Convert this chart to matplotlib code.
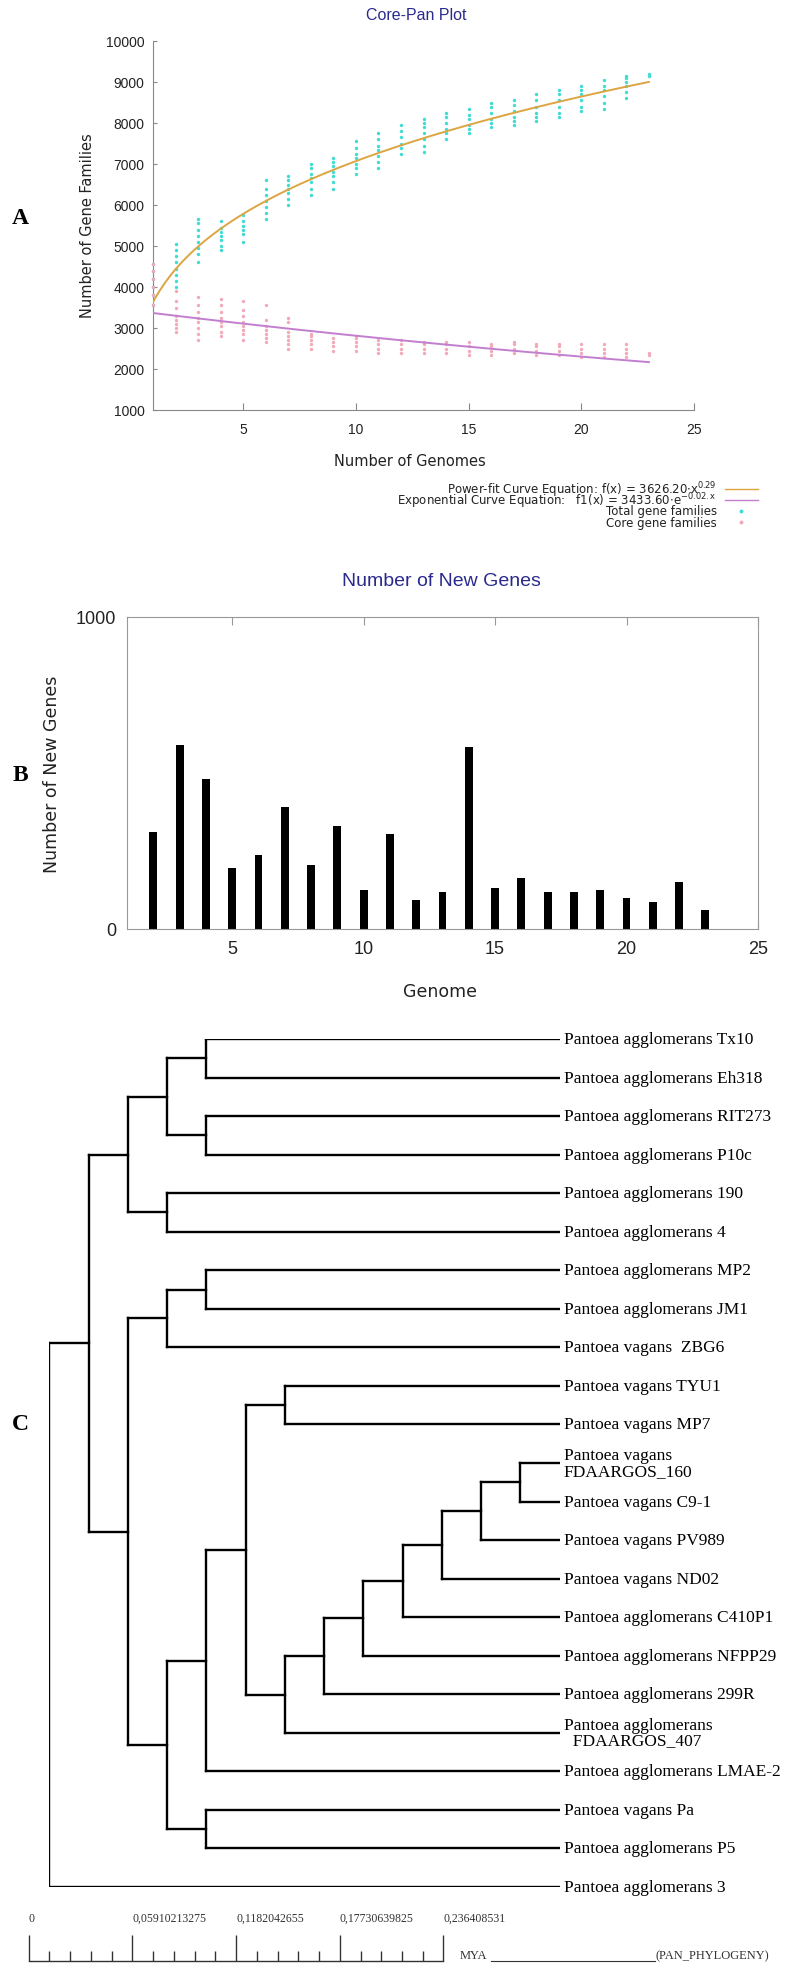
import matplotlib.pyplot as plt
import numpy as np
from matplotlib.lines import Line2D

plt.rcParams['mathtext.default'] = 'regular'

# ---- panel A: core-pan plot ----
genomes_a = list(range(1, 24))
total_families = [
    [3550, 3800, 4000, 4200, 4400, 4550],
    [4000, 4150, 4300, 4450, 4600, 4750, 4900, 5050],
    [4600, 4800, 4950, 5100, 5250, 5400, 5550, 5650],
    [4900, 5000, 5150, 5250, 5350, 5450, 5600],
    [5100, 5300, 5400, 5500, 5600, 5750],
    [5650, 5800, 5950, 6100, 6250, 6400, 6600],
    [6000, 6150, 6300, 6400, 6500, 6600, 6700],
    [6250, 6400, 6550, 6650, 6750, 6900, 7000],
    [6400, 6550, 6700, 6800, 6950, 7050, 7150],
    [6750, 6900, 7000, 7150, 7250, 7400, 7550],
    [6900, 7050, 7200, 7350, 7450, 7600, 7750],
    [7250, 7400, 7500, 7650, 7800, 7950],
    [7300, 7450, 7600, 7750, 7900, 8000, 8100],
    [7600, 7750, 7850, 8000, 8150, 8250],
    [7750, 7850, 7950, 8100, 8200, 8350],
    [7900, 8000, 8100, 8250, 8400, 8500],
    [7950, 8050, 8150, 8300, 8450, 8550],
    [8050, 8150, 8250, 8400, 8550, 8700],
    [8150, 8250, 8400, 8550, 8700, 8800],
    [8300, 8400, 8550, 8700, 8800, 8900],
    [8350, 8500, 8650, 8800, 8900, 9050],
    [8600, 8750, 8900, 9000, 9100, 9150],
    [9150, 9200],
]
core_families = [
    [3550, 3800, 4000, 4200, 4400, 4550],
    [2900, 3000, 3100, 3200, 3300, 3500, 3650, 3900],
    [2700, 2850, 3000, 3150, 3250, 3400, 3550, 3750],
    [2800, 2900, 3050, 3150, 3250, 3400, 3550, 3700],
    [2700, 2850, 2950, 3050, 3150, 3300, 3450, 3650],
    [2650, 2750, 2850, 2950, 3050, 3200, 3550],
    [2500, 2600, 2700, 2800, 2900, 3150, 3250],
    [2500, 2600, 2700, 2800, 2850],
    [2450, 2550, 2650, 2750],
    [2450, 2550, 2650, 2750, 2800],
    [2400, 2500, 2600, 2700],
    [2400, 2500, 2600, 2700],
    [2400, 2500, 2600, 2650],
    [2400, 2500, 2600, 2650],
    [2350, 2450, 2550, 2650],
    [2350, 2450, 2550, 2600],
    [2400, 2500, 2600, 2650],
    [2350, 2450, 2550, 2600],
    [2350, 2450, 2550, 2600],
    [2300, 2400, 2500, 2600],
    [2300, 2400, 2500, 2600],
    [2300, 2400, 2500, 2600],
    [2350, 2400],
]
power_fit = (3626.20, 0.29)
exp_fit = (3433.60, -0.02)
legend_labels = [
    r'Power-fit Curve Equation: f(x) = 3626.20$\cdot$x$^{0.29}$',
    r'Exponential Curve Equation:   f1(x) = 3433.60$\cdot$e$^{-0.02.x}$',
    'Total gene families',
    'Core gene families',
]

# ---- panel B: new genes ----
genomes_b = list(range(2, 24))
new_genes = [310, 590, 481, 194, 238, 392, 206, 330, 126, 306, 93,
             118, 582, 131, 164, 117, 119, 125, 100, 86, 152, 61]

# ---- panel C: phylogeny ----
tree = (
    (
        (
            (("Pantoea agglomerans Tx10", "Pantoea agglomerans Eh318"),
             ("Pantoea agglomerans RIT273", "Pantoea agglomerans P10c")),
            ("Pantoea agglomerans 190", "Pantoea agglomerans 4"),
        ),
        (
            (("Pantoea agglomerans MP2", "Pantoea agglomerans JM1"),
             "Pantoea vagans  ZBG6"),
            (
                (
                    (
                        ("Pantoea vagans TYU1", "Pantoea vagans MP7"),
                        (((((((("Pantoea vagans\nFDAARGOS_160",
                                 "Pantoea vagans C9-1"),
                                "Pantoea vagans PV989"),
                               "Pantoea vagans ND02"),
                              "Pantoea agglomerans C410P1"),
                             "Pantoea agglomerans NFPP29"),
                            "Pantoea agglomerans 299R"),
                           "Pantoea agglomerans\n  FDAARGOS_407")),
                    ),
                    "Pantoea agglomerans LMAE-2",
                ),
                ("Pantoea vagans Pa", "Pantoea agglomerans P5"),
            ),
        ),
    ),
    "Pantoea agglomerans 3",
)
scale_values = [0, 0.05910213275, 0.1182042655, 0.17730639825, 0.236408531]
scale_labels = ["0", "0,05910213275", "0,1182042655", "0,17730639825", "0,236408531"]

W, H = 786, 1974
fig = plt.figure(figsize=(W / 100, H / 100), dpi=100)


def axes_px(l, t, r, b):
    return fig.add_axes([l / W, 1 - b / H, (r - l) / W, (b - t) / H])


def fx(x):
    return x / W


def fy(y):
    return 1 - y / H


cyan = '#3fdcd4'
pink = '#f2a9b8'
orange = '#dca542'
violet = '#c27fcf'
title_blue = '#2a2a8e'
sans = 'Liberation Sans'
serif = 'Liberation Serif'

# panel A
ax1 = axes_px(153, 42, 694, 411)
for g, vals in zip(genomes_a, total_families):
    ax1.scatter([g] * len(vals), vals, s=6, color=cyan, lw=0, zorder=2, clip_on=False)
for g, vals in zip(genomes_a, core_families):
    ax1.scatter([g] * len(vals), vals, s=6, color=pink, lw=0, zorder=3, clip_on=False)
xf = np.linspace(1, 23, 200)
ax1.plot(xf, power_fit[0] * xf ** power_fit[1], color=orange, lw=1.4, zorder=4)
ax1.plot(xf, exp_fit[0] * np.exp(exp_fit[1] * xf), color=violet, lw=1.4, zorder=4)
ax1.set_xlim(1, 25)
ax1.set_ylim(1000, 10000)
ax1.set_xticks([5, 10, 15, 20, 25])
ax1.set_yticks(range(1000, 10001, 1000))
for s in ['top', 'right']:
    ax1.spines[s].set_visible(False)
for s in ['left', 'bottom']:
    ax1.spines[s].set_color('#888888')
ax1.tick_params(axis='x', direction='in', length=5, color='#888888', pad=9,
                labelsize=10, labelcolor='#222222')
ax1.tick_params(axis='y', direction='in', length=3, color='#888888', pad=6,
                labelsize=10, labelcolor='#222222')
for lab in ax1.get_xticklabels() + ax1.get_yticklabels():
    lab.set_family(sans)

fig.text(fx(416), fy(16), 'Core-Pan Plot', color=title_blue, fontsize=11.5,
         family=sans, ha='center', va='center')
fig.text(fx(88), fy(226), 'Number of Gene Families', rotation=90, fontsize=10.5,
         ha='center', va='center', color='#222222')
fig.text(fx(410), fy(462), 'Number of Genomes', fontsize=10.5,
         ha='center', va='center', color='#222222')

rows = [490, 501, 512, 523]
for lab, y in zip(legend_labels, rows):
    fig.text(fx(717), fy(y), lab, fontsize=8.5, ha='right', va='center', color='#222222')
fig.add_artist(Line2D([fx(725), fx(758)], [fy(rows[0])] * 2, color=orange, lw=1))
fig.add_artist(Line2D([fx(725), fx(758)], [fy(rows[1])] * 2, color=violet, lw=1))
fig.add_artist(Line2D([fx(741)], [fy(rows[2])], marker='o', ms=1.8, color=cyan, lw=0))
fig.add_artist(Line2D([fx(741)], [fy(rows[3])], marker='o', ms=1.8, color=pink, lw=0))

# panel B
ax2 = axes_px(127, 618, 758, 930)
ax2.bar(genomes_b, new_genes, width=0.3, color='black', zorder=2)
ax2.set_xlim(1, 25)
ax2.set_ylim(0, 1000)
ax2.set_xticks([5, 10, 15, 20, 25])
ax2.set_yticks([0, 1000])
for s in ax2.spines.values():
    s.set_color('#999999')
ax2.tick_params(axis='x', direction='in', top=True, length=6, color='#999999', pad=8,
                labelsize=13, labelcolor='#222222')
ax2.tick_params(axis='y', length=0, pad=8, labelsize=13, labelcolor='#222222')
for lab in ax2.get_xticklabels() + ax2.get_yticklabels():
    lab.set_family(sans)

fig.text(fx(441), fy(582), 'Number of New Genes', color=title_blue, fontsize=14,
         family=sans, ha='center', va='center')
fig.text(fx(52), fy(774), 'Number of New Genes', rotation=90, fontsize=12.5,
         ha='center', va='center', color='#222222')
fig.text(fx(440), fy(992), 'Genome', fontsize=12.5, ha='center', va='center',
         color='#222222')

# panel C
ax3 = axes_px(49.5, 1040, 559.5, 1888)
tip_x = 13
leaves = []


def layout(node, depth):
    if isinstance(node, str):
        leaves.append(node)
        return tip_x, len(leaves) - 1
    pts = [layout(ch, depth + 1) for ch in node]
    ys = [p[1] for p in pts]
    ax3.plot([depth, depth], [min(ys), max(ys)], color='black', lw=1.7,
             solid_capstyle='projecting')
    for cx, cy in pts:
        ax3.plot([depth, cx], [cy, cy], color='black', lw=1.7,
                 solid_capstyle='projecting')
    return depth, (min(ys) + max(ys)) / 2


layout(tree, 0)
for i, name in enumerate(leaves):
    ax3.annotate(name, (tip_x, i), xytext=(3, 0), textcoords='offset points',
                 ha='left', va='center', fontsize=12.5, family=serif,
                 linespacing=0.95, annotation_clip=False)
ax3.set_xlim(0, 13)
ax3.set_ylim(len(leaves) - 1, 0)
ax3.axis('off')

# scale bar
ax4 = axes_px(28.7, 1936, 443.5, 1962)
ax4.set_xlim(0, scale_values[-1])
ax4.set_ylim(0, 1)
ax4.axis('off')
ax4.plot([0, scale_values[-1]], [0, 0], color='#333333', lw=1, clip_on=False)
ax4.vlines(scale_values, 0, 1, color='#333333', lw=1, clip_on=False)
minor = np.concatenate([np.linspace(a, b, 6)[1:-1]
                        for a, b in zip(scale_values[:-1], scale_values[1:])])
ax4.vlines(minor, 0, 0.38, color='#333333', lw=1, clip_on=False)
for v, lab in zip(scale_values, scale_labels):
    ax4.text(v, 1.65, lab, ha='left', va='center', fontsize=8.5, family=serif,
             color='#333333', clip_on=False)
fig.text(fx(460), fy(1956), 'MYA', fontsize=9, family=serif, ha='left', va='center',
         color='#333333')
fig.add_artist(Line2D([fx(491), fx(655)], [fy(1962)] * 2, color='#333333', lw=0.8))
fig.text(fx(656), fy(1956), '(PAN_PHYLOGENY)', fontsize=9, family=serif, ha='left',
         va='center', color='#333333')

# panel letters
for letter, y in [('A', 218), ('B', 776), ('C', 1424)]:
    fig.text(fx(20), fy(y), letter, fontsize=17, fontweight='bold', family=serif,
             ha='center', va='center')

fig.savefig('out.png', dpi=100)
